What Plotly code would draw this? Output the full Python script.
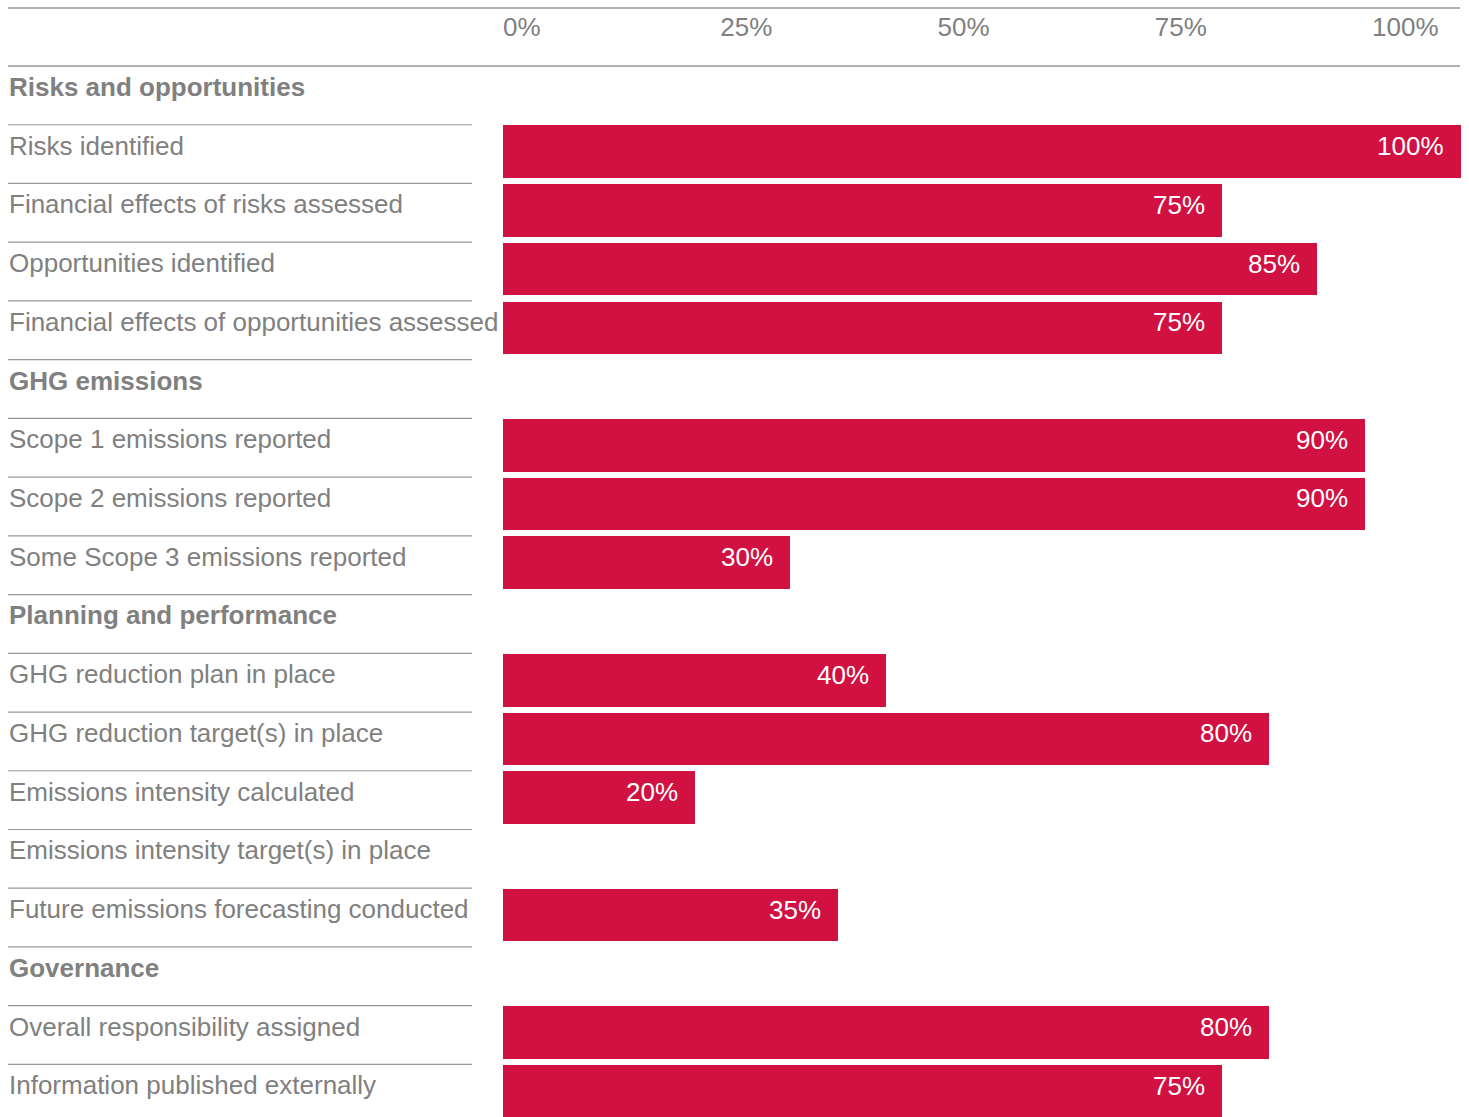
import plotly.graph_objects as go

# Row labels, in display order (section headings included)
row_labels = [
    "Risks and opportunities",
    "Risks identified",
    "Financial effects of risks assessed",
    "Opportunities identified",
    "Financial effects of opportunities assessed",
    "GHG emissions",
    "Scope 1 emissions reported",
    "Scope 2 emissions reported",
    "Some Scope 3 emissions reported",
    "Planning and performance",
    "GHG reduction plan in place",
    "GHG reduction target(s) in place",
    "Emissions intensity calculated",
    "Emissions intensity target(s) in place",
    "Future emissions forecasting conducted",
    "Governance",
    "Overall responsibility assigned",
    "Information published externally",
]
is_heading = [
    True, False, False, False, False,
    True, False, False, False,
    True, False, False, False, False, False,
    True, False, False,
]
# Share of companies (%) per row; None where no bar is drawn
values = [
    None, 100, 75, 85, 75,
    None, 90, 90, 30,
    None, 40, 80, 20, None, 35,
    None, 80, 75,
]
tick_values = [0, 25, 50, 75, 100]
tick_labels = ["0%", "25%", "50%", "75%", "100%"]

W, H = 1469, 1117
BAR_RED = "#D01142"
TEXT_GREY = "#808080"
RULE_GREY = "#989898"
FONT = "Liberation Sans, Arial, sans-serif"
FS = 26

rows = list(range(len(row_labels)))
pitch = 58.73
top_px = 66
y_top = -0.5
y_bottom = -0.5 + (H - top_px) / pitch

x0_px, x1_px = 503, 1461
dom = [x0_px / W, x1_px / W]

bar_rows = [r for r in rows if values[r] is not None]
bar_vals = [values[r] for r in bar_rows]

fig = go.Figure()
fig.add_trace(go.Bar(
    x=bar_vals, y=bar_rows, orientation="h",
    marker=dict(color=BAR_RED, line=dict(width=0)),
    width=0.897, offset=-0.49,
    hoverinfo="skip", showlegend=False,
))
# Carrier trace for the top scale axis
fig.add_trace(go.Scatter(
    x=[0], y=[0], xaxis="x2", mode="markers",
    marker=dict(opacity=0), hoverinfo="skip", showlegend=False,
))

annotations = []
for r in rows:
    annotations.append(dict(
        x=7 / W, xref="paper", y=r, yref="y",
        text=f"<b>{row_labels[r]}</b>" if is_heading[r] else row_labels[r],
        xanchor="left", yanchor="middle", yshift=8.5,
        showarrow=False,
        font=dict(family=FONT, size=FS, color=TEXT_GREY),
    ))
for r, v in zip(bar_rows, bar_vals):
    annotations.append(dict(
        x=v, xref="x", y=r, yref="y",
        text=f"{v}%", xanchor="right", yanchor="middle",
        xshift=-15, yshift=8,
        showarrow=False,
        font=dict(family=FONT, size=FS, color="white"),
    ))

shapes = []
# Full-width rules framing the scale header
for ypx in (8, 66):
    shapes.append(dict(
        type="line", xref="paper", yref="paper",
        x0=8 / W, x1=1460 / W, y0=1 - ypx / H, y1=1 - ypx / H,
        line=dict(color=RULE_GREY, width=1.5),
    ))
# Short rules between label rows
for r in rows[1:]:
    shapes.append(dict(
        type="line", xref="paper", yref="y",
        x0=8 / W, x1=472 / W, y0=r - 0.5, y1=r - 0.5,
        line=dict(color=RULE_GREY, width=1.2),
    ))

fig.update_layout(
    width=W, height=H,
    margin=dict(l=0, r=0, t=0, b=0),
    paper_bgcolor="white", plot_bgcolor="white",
    xaxis=dict(domain=dom, range=[0, 100], visible=False, fixedrange=True),
    xaxis2=dict(
        domain=dom, overlaying="x", anchor="y", side="top",
        range=[0, (x1_px - x0_px) / ((1372 - 503) / 100)],
        tickvals=tick_values, ticktext=tick_labels,
        ticklabelposition="outside right", ticks="",
        showgrid=False, zeroline=False, showline=False,
        ticklabelstandoff=24,
        tickfont=dict(family=FONT, size=FS, color=TEXT_GREY),
        fixedrange=True,
    ),
    yaxis=dict(
        domain=[0, 1 - top_px / H], range=[y_bottom, y_top],
        visible=False, fixedrange=True,
    ),
    bargap=0,
    annotations=annotations,
    shapes=shapes,
)

fig.write_html("out.html")
